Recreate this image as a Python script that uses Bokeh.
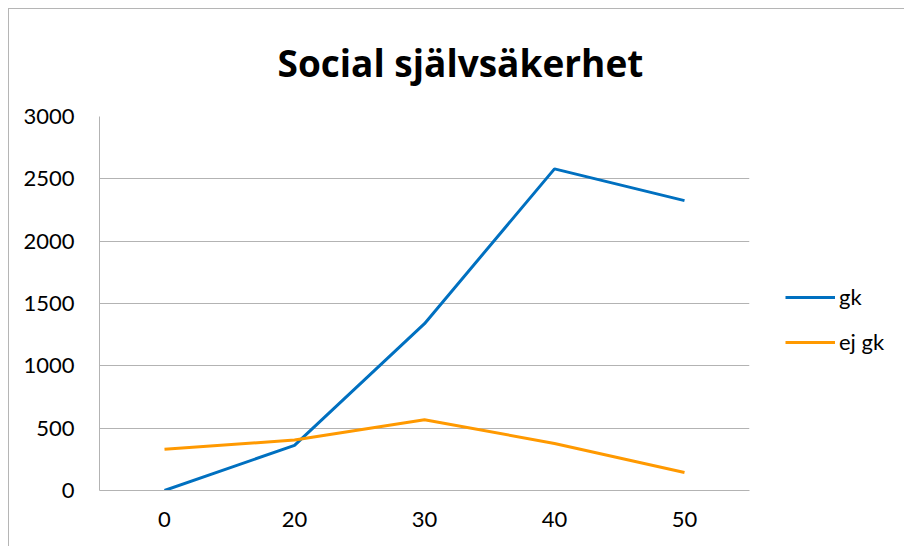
from bokeh.plotting import figure
from bokeh.models import FactorRange, Range1d, Legend, LegendItem, Title, SingleIntervalTicker
from bokeh.embed import file_html
from bokeh.resources import INLINE

categories = ["0", "20", "30", "40", "50"]
gk = [0, 362, 1338, 2580, 2325]
ej_gk = [330, 405, 568, 377, 145]
title_text = "Social självsäkerhet"
series_names = ["gk", "ej gk"]
colors = ["#0070C0", "#FF9900"]

FONT = "Lato"

p = figure(frame_width=650, frame_height=374,
           x_range=FactorRange(factors=categories, range_padding=0),
           y_range=Range1d(0, 3000), output_backend="svg", toolbar_location=None,
           min_border_left=90, min_border_right=156, min_border_top=107, min_border_bottom=57,
           title=None)
p.styles = {"margin-left": "8px", "margin-top": "8px",
            "border-left": "1px solid #b5b5b5", "border-top": "1px solid #b5b5b5"}
p.outline_line_color = None
p.background_fill_color = "white"
p.border_fill_color = "white"

r1 = p.line(x=categories, y=gk, line_color=colors[0], line_width=3)
r2 = p.line(x=categories, y=ej_gk, line_color=colors[1], line_width=3)

p.yaxis.ticker = SingleIntervalTicker(interval=500)
p.ygrid.grid_line_color = "#b3b3b3"
p.ygrid.grid_line_width = 1
p.xgrid.grid_line_color = None

for ax in (p.xaxis[0], p.yaxis[0]):
    ax.axis_line_color = "#b3b3b3"
    ax.major_tick_line_color = None
    ax.minor_tick_line_color = None
    ax.major_tick_out = 0
    ax.major_tick_in = 0
    ax.major_label_text_font = FONT
    ax.major_label_text_font_size = "22px"
    ax.major_label_text_color = "black"
p.yaxis.major_label_standoff = 21
p.xaxis.major_label_standoff = 21

title = Title(text=title_text, align="left", offset=178, text_font="Open Sans",
              text_font_style="bold", text_font_size="37px", text_color="black",
              vertical_align="top", standoff=53)
p.add_layout(title, "above")

legend = Legend(items=[LegendItem(label=series_names[0], renderers=[r1]),
                       LegendItem(label=series_names[1], renderers=[r2])],
                location=(36, 135), orientation="vertical")
legend.border_line_color = None
legend.background_fill_alpha = 0
legend.padding = 0
legend.margin = 0
legend.spacing = 18
legend.glyph_width = 50
legend.glyph_height = 20
legend.label_height = 20
legend.label_standoff = 4
legend.label_text_font = FONT
legend.label_text_font_size = "22px"
legend.label_text_color = "black"
legend.label_text_baseline = "middle"
p.add_layout(legend, "right")

open("out.html", "w").write(file_html(p, INLINE))
